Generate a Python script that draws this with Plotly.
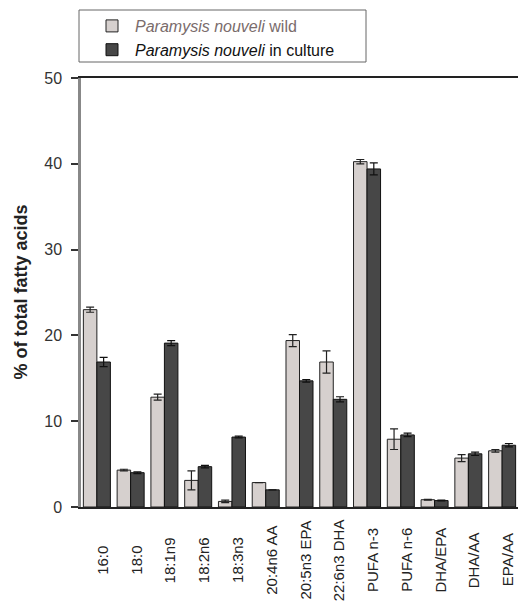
import plotly.graph_objects as go

categories = ["16:0", "18:0", "18:1n9", "18:2n6", "18:3n3", "20:4n6 AA",
              "20:5n3 EPA", "22:6n3 DHA", "PUFA n-3", "PUFA n-6",
              "DHA/EPA", "DHA/AA", "EPA/AA"]
wild = [23.0, 4.3, 12.8, 3.1, 0.65, 2.85, 19.4, 16.9, 40.25, 7.9, 0.85, 5.7, 6.55]
wild_err = [0.3, 0.1, 0.35, 1.1, 0.15, 0.0, 0.7, 1.3, 0.25, 1.2, 0.05, 0.4, 0.15]
culture = [16.9, 4.0, 19.1, 4.7, 8.15, 2.0, 14.7, 12.55, 39.4, 8.4, 0.75, 6.2, 7.2]
culture_err = [0.55, 0.1, 0.3, 0.15, 0.1, 0.0, 0.15, 0.3, 0.7, 0.2, 0.05, 0.2, 0.2]
y_ticks = [0, 10, 20, 30, 40, 50]

W, H = 518, 608
L, R, T, B = 81, 0, 78, 101
PW, PH = W - L - R, H - T - B
FONT = "Liberation Sans, Arial"
x = list(range(len(categories)))

fig = go.Figure()
fig.add_trace(go.Bar(
    x=x, y=wild, name="<span style='color:#7a6c6c'><i>Paramysis nouveli</i> wild</span>",
    marker=dict(color="#d6d0ce", line=dict(color="#222222", width=1)),
    error_y=dict(type="data", array=wild_err, color="#222222", thickness=1.2, width=4),
))
fig.add_trace(go.Bar(
    x=x, y=culture, name="<i>Paramysis nouveli</i> in culture",
    marker=dict(color="#474747", line=dict(color="#111111", width=1)),
    error_y=dict(type="data", array=culture_err, color="#111111", thickness=1.2, width=4),
))

# category labels, rotated and centred below the axis
for i, c in enumerate(categories):
    fig.add_annotation(x=i, y=-(560 - (H - B)) / PH, xref="x", yref="paper", text=c,
                       textangle=-90, showarrow=False, xshift=5,
                       xanchor="center", yanchor="middle",
                       font=dict(family=FONT, size=15, color="#222222"))

# y-axis title
fig.add_annotation(x=(20 - L) / PW, y=0.5, xref="paper", yref="paper",
                   text="<b>% of total fatty acids</b>", textangle=-90,
                   showarrow=False, xanchor="center", yanchor="middle",
                   font=dict(family=FONT, size=18, color="#222222"))

# frame around the legend
fig.add_shape(type="rect", xref="paper", yref="paper",
              x0=(79 - L) / PW, x1=(366 - L) / PW,
              y0=1 + (T - 62) / PH, y1=1 + (T - 10) / PH,
              line=dict(color="#666666", width=1), fillcolor="rgba(0,0,0,0)")

fig.update_layout(
    width=W, height=H,
    margin=dict(l=L, r=R, t=T, b=B, autoexpand=False),
    plot_bgcolor="white", paper_bgcolor="white",
    barmode="group", bargap=0.2, bargroupgap=0.0,
    font=dict(family=FONT, size=16, color="#222222"),
    legend=dict(
        x=89 / W, xanchor="left", y=1 - 9 / H, yanchor="top",
        xref="container", yref="container",
        borderwidth=0, bgcolor="rgba(0,0,0,0)",
        font=dict(size=16, color="#111111"),
        tracegroupgap=0, itemwidth=36,
    ),
    showlegend=True,
)
fig.update_xaxes(
    range=[-0.47, 12.47], showticklabels=False, ticks="",
    showline=True, linecolor="#222222", linewidth=2, mirror=True,
    showgrid=False, zeroline=False,
)
fig.update_yaxes(
    range=[0, 50], tickvals=y_ticks, ticks="outside", ticklen=7,
    tickcolor="#333333", tickwidth=1.5, ticklabelstandoff=6,
    showline=True, linecolor="#888888", linewidth=2.5,
    showgrid=False, zeroline=False,
    tickfont=dict(family=FONT, size=16, color="#333333"),
)

fig.write_html("out.html")
